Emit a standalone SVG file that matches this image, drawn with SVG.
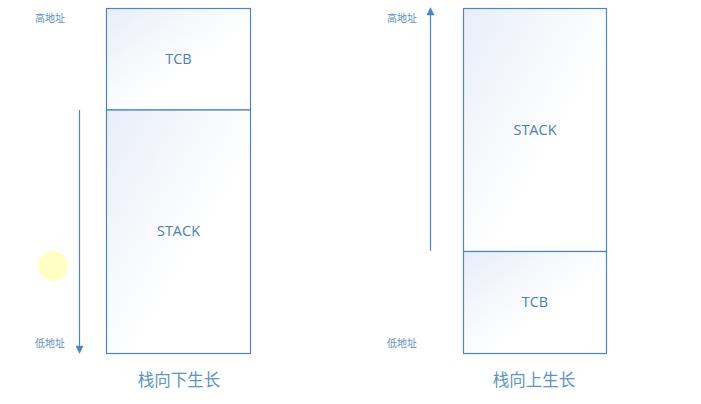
<svg xmlns="http://www.w3.org/2000/svg" width="701" height="404" viewBox="0 0 701 404">
<defs>
<linearGradient id="g" x1="0" y1="0" x2="1" y2="1">
<stop offset="0" stop-color="#e8eef8"/>
<stop offset="0.6" stop-color="#ffffff"/>
<stop offset="1" stop-color="#ffffff"/>
</linearGradient>
<marker id="ah" viewBox="0 0 10 10" refX="9" refY="5" markerWidth="9" markerHeight="8" markerUnits="userSpaceOnUse" orient="auto">
<path d="M0,0 L10,5 L0,10 z" fill="#4a86c0"/>
</marker>
<style>
.box{fill:url(#g);stroke:#4a86c0;stroke-width:1.2}
.t{font-family:"Segoe UI","Open Sans","Noto Sans",sans-serif;font-size:14.5px;fill:#4a7fb5;text-anchor:middle}
.a{font-family:"Noto Sans CJK SC",sans-serif;font-size:10px;fill:#5b8fc7}
.h{font-family:"Noto Sans CJK SC",sans-serif;font-size:16.5px;fill:#5b95cc;text-anchor:middle}
.c{stroke:#4a86c0;stroke-width:1.2;fill:none}
</style>
</defs>
<rect width="701" height="404" fill="#ffffff"/>
<circle cx="53" cy="266" r="15" fill="#ffffc4"/>
<g id="left-tcb"><rect class="box" x="106.5" y="8.5" width="144" height="101.5"/><text class="t" x="178.5" y="64">TCB</text></g>
<g id="left-stack"><rect class="box" x="106.5" y="110" width="144" height="243.5"/><text class="t" x="178.5" y="236">STACK</text></g>
<g id="right-stack"><rect class="box" x="463.5" y="8.5" width="143" height="243"/><text class="t" x="535" y="135">STACK</text></g>
<g id="right-tcb"><rect class="box" x="463.5" y="251.5" width="143" height="102"/><text class="t" x="535" y="307">TCB</text></g>
<g id="connectors">
<line class="c" x1="79.5" y1="110" x2="79.5" y2="353" marker-end="url(#ah)"/>
<line class="c" x1="430.5" y1="251" x2="430.5" y2="8" marker-end="url(#ah)"/>
</g>
<g id="labels">
<text class="a" x="35" y="22">高地址</text>
<text class="a" x="35" y="347">低地址</text>
<text class="a" x="387" y="22">高地址</text>
<text class="a" x="387" y="347">低地址</text>
<text class="h" x="179" y="386">栈向下生长</text>
<text class="h" x="534" y="386">栈向上生长</text>
</g>
</svg>
